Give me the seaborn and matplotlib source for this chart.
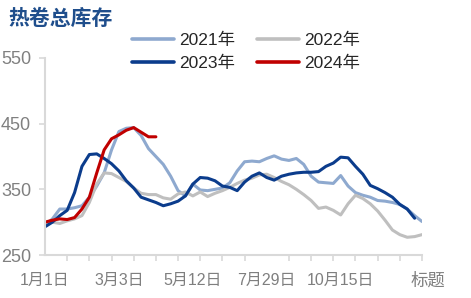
import numpy as np
import pandas as pd
import matplotlib
matplotlib.use("Agg")
import matplotlib.pyplot as plt
import seaborn as sns
from matplotlib.lines import Line2D

# ---- data (weekly index) ----
weeks = list(range(52))
y2021 = [295, 305, 320, 320, 322, 325, 338, 355, 375, 410, 438, 443, 444, 432, 412, 400,
         388, 370, 348, 340, 358, 349, 348, 350, 352, 360, 378, 392, 393, 392, 397, 401,
         396, 394, 397, 388, 370, 361, 360, 359, 371, 355, 345, 341, 338, 333, 332, 330,
         327, 320, 310, 301]
y2022 = [298, 300, 298, 302, 305, 310, 330, 358, 375, 374, 368, 362, 352, 344, 342, 342,
         337, 335, 343, 346, 340, 346, 339, 344, 348, 353, 359, 364, 367, 372, 373, 368,
         362, 357, 350, 342, 333, 321, 323, 318, 311, 328, 341, 336, 328, 317, 303, 288,
         281, 277, 278, 281]
y2023 = [293, 300, 310, 318, 345, 385, 403, 404, 397, 389, 378, 363, 352, 338, 334, 330,
         325, 328, 332, 340, 358, 368, 367, 363, 355, 353, 348, 361, 370, 375, 368, 364,
         370, 373, 375, 376, 376, 377, 385, 390, 399, 398, 385, 373, 356, 351, 345, 338,
         327, 320, 306, None]
y2024 = [300, 303, 305, 304, 307, 320, 338, 375, 410, 427, 433, 440, 444, 437, 430, 430]

years = ["2021年", "2022年", "2023年", "2024年"]
series = [y2021, y2022, y2023, y2024]
colors = ["#8EA9CF", "#BFBFBF", "#0B3C8C", "#C00000"]

tick_label_pos = [0, 10, 20, 30, 40]
tick_labels = ["1月1日", "3月3日", "5月12日", "7月29日", "10月15日"]
y_ticks = [250, 350, 450, 550]

rows = []
for yr, vals in zip(years, series):
    for w, v in zip(weeks, vals):
        if v is not None:
            rows.append({"week": w, "value": v, "year": yr})
df = pd.DataFrame(rows)

sns.set_style("white")
plt.rcParams["font.family"] = ["Liberation Sans", "Noto Sans CJK SC", "DejaVu Sans"]

fig = plt.figure(figsize=(4.71, 2.98), dpi=100)
ax = fig.add_axes([45/471, 1-255/298, (422-45)/471, (255-58)/298])

sns.lineplot(data=df, x="week", y="value", hue="year", hue_order=years,
             palette=dict(zip(years, colors)), linewidth=2.2, ax=ax, legend=False,
             estimator=None, sort=True)

ax.set_xlim(0, 51)
ax.set_ylim(250, 550)
ax.set_xlabel("")
ax.set_ylabel("")

grey = "#D9D9D9"
for s in ["top", "right"]:
    ax.spines[s].set_visible(False)
for s in ["left", "bottom"]:
    ax.spines[s].set_color(grey)
    ax.spines[s].set_linewidth(1.5)

ax.set_yticks(y_ticks)
ax.set_yticklabels([str(t) for t in y_ticks])
ax.tick_params(axis="y", direction="out", length=4, width=1.2, color=grey,
               labelsize=13, labelcolor="#808080", pad=6, left=True)

ax.set_xticks(tick_label_pos)
ax.set_xticklabels(tick_labels)
ax.set_xticks(list(range(0, 52, 3)), minor=True)
ax.tick_params(axis="x", which="major", length=0, labelsize=11.5,
               labelcolor="#7F7F7F", pad=13)
ax.tick_params(axis="x", which="minor", direction="out", length=4, width=1.2,
               color=grey, bottom=True)

handles = {yr: Line2D([0], [0], color=c, lw=2.6) for yr, c in zip(years, colors)}
order = ["2021年", "2023年", "2022年", "2024年"]
fig.legend([handles[k] for k in order], order, loc="upper left",
           bbox_to_anchor=(132/471, 1-33/298),
           ncol=2, frameon=False, fontsize=12.5, handlelength=2.4,
           handletextpad=0.3, columnspacing=1.3, labelspacing=0.4,
           borderaxespad=0, borderpad=0)

fig.text(8/471, 1-18/298, "热卷总库存", fontsize=15, fontweight="bold",
         color="#1F4E8C", va="center", ha="left",
         family=["Noto Sans CJK SC", "DejaVu Sans"])
fig.text(428/471, 1-281/298, "标题", fontsize=12.5, color="#7F7F7F",
         va="center", ha="center", family=["Noto Sans CJK SC", "DejaVu Sans"])

fig.savefig("out.png", dpi=100)
